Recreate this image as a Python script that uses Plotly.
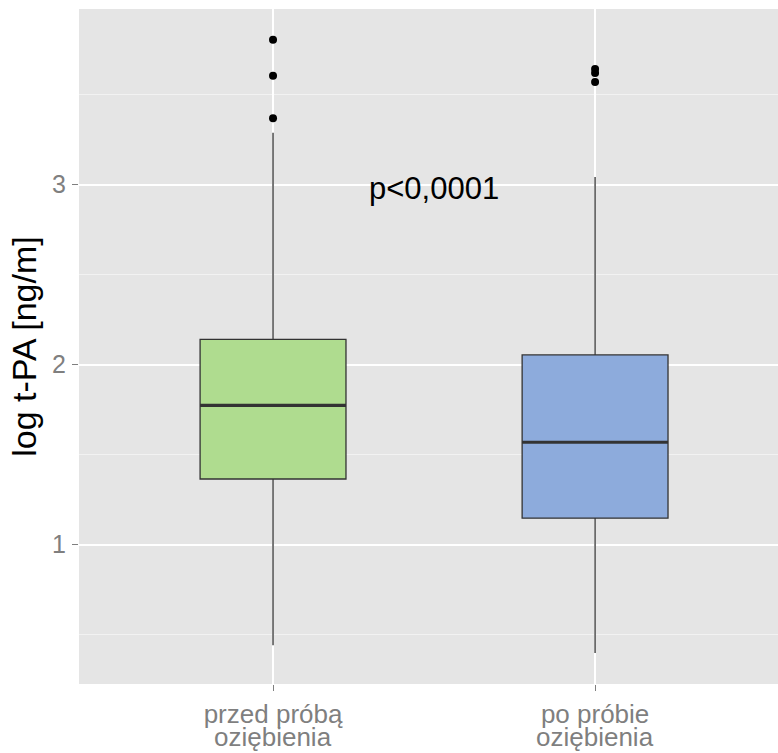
import plotly.graph_objects as go

categories = ["przed próbą\noziębienia", "po próbie\noziębienia"]
q1 = [1.364, 1.146]
median = [1.773, 1.568]
q3 = [2.140, 2.053]
lower_whisker = [0.44, 0.397]
upper_whisker = [3.288, 3.042]
outliers = [[3.804, 3.604, 3.368], [3.642, 3.619, 3.569]]
fills = ["#AFDC8F", "#8DABDC"]
y_ticks = [1, 2, 3]
annotation_text = "p<0,0001"

FONT = "Liberation Sans, Arial"
GREY = "#7F7F7F"
box_w = 0.453
pos = list(range(len(categories)))
line1 = [c.split("\n")[0] for c in categories]
line2 = [c.split("\n")[1] for c in categories]

fig = go.Figure()
for i in pos:
    fig.add_trace(go.Box(
        x=[i], q1=[q1[i]], median=[median[i]], q3=[q3[i]],
        lowerfence=[lower_whisker[i]], upperfence=[upper_whisker[i]],
        width=box_w, whiskerwidth=0, fillcolor=fills[i],
        line=dict(color="#333333", width=1.3), boxpoints=False,
        showlegend=False, hoverinfo="skip"))
    fig.add_trace(go.Scatter(
        x=[i - box_w / 2, i + box_w / 2], y=[median[i], median[i]],
        mode="lines", line=dict(color="#333333", width=3.2),
        showlegend=False, hoverinfo="skip"))
    fig.add_trace(go.Scatter(
        x=[i] * len(outliers[i]), y=outliers[i], mode="markers",
        marker=dict(color="black", size=8), showlegend=False, hoverinfo="skip"))
    fig.add_annotation(x=i, xref="x", y=-0.1035, yref="paper", yanchor="bottom",
                       text=line2[i], showarrow=False,
                       font=dict(size=26, color=GREY, family=FONT))

fig.add_annotation(x=0.5, y=2.98, text=annotation_text, showarrow=False,
                   font=dict(size=31, color="black", family=FONT))

fig.update_layout(
    width=778, height=753,
    margin=dict(l=79, r=0, t=9, b=69),
    paper_bgcolor="white", plot_bgcolor="#E5E5E5",
    font=dict(family=FONT, color=GREY),
)
fig.update_xaxes(
    range=[-0.6025, 1.568], tickvals=pos, ticktext=line1,
    showgrid=True, gridcolor="white", gridwidth=1.5, zeroline=False,
    ticks="outside", ticklen=6, tickcolor=GREY, tickwidth=1,
    ticklabelstandoff=1,
    tickfont=dict(size=26, color=GREY),
)
fig.update_yaxes(
    range=[0.225, 3.975], tickvals=y_ticks,
    showgrid=True, gridcolor="white", gridwidth=1.5, zeroline=False,
    ticks="outside", ticklen=6, tickcolor=GREY, tickwidth=1,
    ticklabelstandoff=1,
    tickfont=dict(size=25, color=GREY),
    minor=dict(tickvals=[0.5, 1.5, 2.5, 3.5], showgrid=True, gridcolor="#F2F2F2", gridwidth=0.8, ticks=""),
    title=dict(text="log t-PA [ng/m]", font=dict(size=34, color="black"), standoff=5),
)

fig.write_html("out.html")
